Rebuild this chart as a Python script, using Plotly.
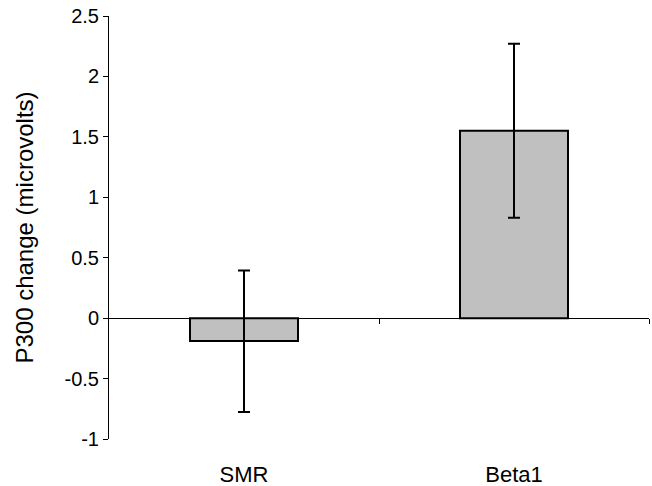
import plotly.graph_objects as go

categories = ["SMR", "Beta1"]
means = [-0.19, 1.55]
upper = [0.395, 2.27]
lower = [-0.776, 0.83]
y_tick_vals = [-1, -0.5, 0, 0.5, 1, 1.5, 2, 2.5]
y_tick_text = ["-1", "-0.5", "0", "0.5", "1", "1.5", "2", "2.5"]
y_title = "P300 change (microvolts)"

positions = list(range(len(categories)))
err_plus = [u - m for u, m in zip(upper, means)]
err_minus = [m - l for m, l in zip(means, lower)]
boundaries = [p + 0.5 for p in positions]
ymin, ymax = -1, 2.5

FONT = "Liberation Sans, Arial, sans-serif"

fig = go.Figure()
fig.add_trace(go.Bar(
    x=positions, y=means, width=0.4,
    marker=dict(color="#c0c0c0", line=dict(color="black", width=2)),
    error_y=dict(type="data", symmetric=False, array=err_plus, arrayminus=err_minus,
                 color="black", thickness=2, width=6),
    showlegend=False, hoverinfo="skip", cliponaxis=False,
))
fig.add_trace(go.Scatter(
    x=positions, y=means, xaxis="x2", mode="markers",
    marker=dict(opacity=0), showlegend=False, hoverinfo="skip",
))

fig.update_layout(
    width=652, height=486,
    margin=dict(l=109, r=3, t=16, b=47),
    paper_bgcolor="white", plot_bgcolor="white",
    font=dict(family=FONT, color="black"),
    xaxis=dict(
        range=[-0.5, len(categories) - 0.5],
        anchor="free", position=(0 - ymin) / (ymax - ymin),
        showline=True, linecolor="black", linewidth=1,
        tickmode="array", tickvals=boundaries, ticks="outside", ticklen=5,
        tickcolor="black", tickwidth=1,
        showticklabels=False, showgrid=False, zeroline=False,
        automargin=False,
    ),
    xaxis2=dict(
        overlaying="x", anchor="y", matches="x",
        range=[-0.5, len(categories) - 0.5],
        tickmode="array", tickvals=positions, ticktext=categories,
        ticks="", showline=False, showgrid=False, zeroline=False,
        tickfont=dict(size=22, family=FONT, color="black"),
        ticklabelstandoff=20, automargin=False,
    ),
    yaxis=dict(
        range=[ymin, ymax],
        tickmode="array", tickvals=y_tick_vals, ticktext=y_tick_text,
        showline=True, linecolor="black", linewidth=1,
        ticks="outside", ticklen=5, tickcolor="black", tickwidth=1,
        tickfont=dict(size=20, family=FONT, color="black"),
        ticklabeloverflow="allow",
        showgrid=False, zeroline=False, automargin=False,
        title=dict(text=y_title, font=dict(size=24, family=FONT, color="black"), standoff=24),
    ),
)

# remove the browser's default 8px body margin so the figure fills the window
fig.write_html(
    "out.html",
    config={"displayModeBar": False},
    post_script="document.body.style.margin='0';document.body.style.overflow='hidden';",
)
